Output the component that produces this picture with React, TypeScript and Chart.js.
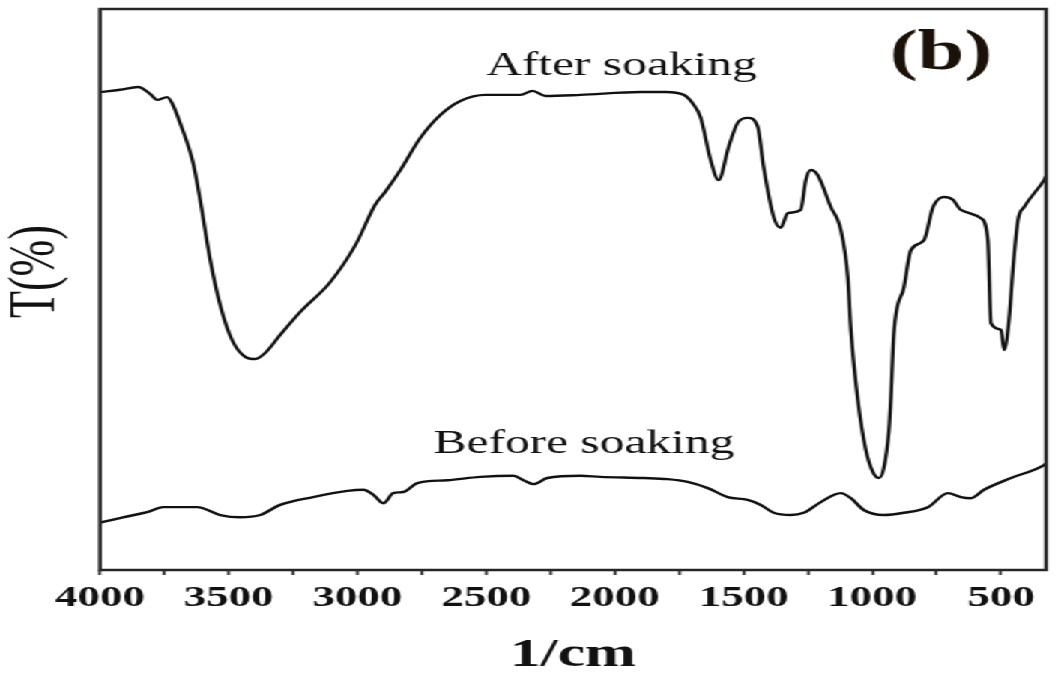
import React, { useEffect, useRef } from 'react';
import { Chart, registerables } from 'chart.js';

Chart.register(...registerables);

// ---- data (wavenumber in 1/cm, transmittance in arbitrary %) ----
const afterWavenumber = [
  4000, 3922, 3852, 3806, 3778, 3739, 3720, 3689, 3638, 3611, 3572, 3533, 3487, 3436, 3397, 3358,
  3300, 3222, 3106, 3008, 2931, 2892, 2833, 2756, 2678, 2600, 2503, 2367, 2320, 2269, 2133, 1900,
  1803, 1733, 1698, 1667, 1628, 1597, 1558, 1523, 1484, 1445, 1422, 1383, 1356, 1328, 1278, 1258,
  1239, 1212, 1161, 1122, 1095, 1083, 1056, 1025, 998, 974, 955, 935, 928, 916, 877, 850, 799, 764,
  722, 687, 656, 578, 551, 539, 500, 488, 469, 453, 434, 410, 333, 325,
];
const afterTransmittance = [
  85.2, 85.6, 86.1, 84.9, 83.8, 84.3, 83.2, 79.7, 72.5, 66.0, 55.3, 47.2, 41.0, 38.0, 37.6, 38.7,
  41.9, 46.0, 51.3, 57.9, 65.1, 67.4, 71.3, 77.0, 81.1, 83.6, 84.7, 84.7, 85.4, 84.5, 84.7, 85.2,
  85.2, 84.7, 83.2, 80.7, 73.1, 69.5, 75.4, 79.7, 80.6, 79.0, 71.8, 62.9, 61.0, 63.6, 64.2, 69.5,
  71.3, 70.4, 64.7, 60.6, 52.2, 42.8, 30.3, 21.4, 17.5, 16.4, 18.2, 25.0, 30.3, 42.2, 50.4, 57.0, 58.8, 64.7,
  66.5, 66.0, 64.2, 62.7, 58.8, 44.0, 42.8, 39.2, 44.6, 54.0, 62.4, 64.7, 69.5, 70.2,
];

const beforeWavenumber = [
  4000, 3911, 3817, 3755, 3623, 3533, 3456, 3378, 3300, 3172, 3039, 2977, 2938, 2899, 2861, 2822,
  2767, 2651, 2522, 2394, 2355, 2316, 2262, 2133, 2056, 1888, 1795, 1717, 1639, 1562, 1484, 1433,
  1383, 1317, 1266, 1200, 1122, 1083, 1033, 955, 877, 784, 706, 656, 617, 566, 461, 333, 325,
];
const beforeTransmittance = [
  8.4, 9.4, 10.3, 11.2, 11.2, 9.8, 9.4, 9.8, 11.6, 13.0, 14.1, 14.3, 13.4, 11.9, 13.7, 13.9,
  15.5, 16.0, 16.6, 16.8, 16.0, 15.3, 16.4, 16.8, 16.6, 16.4, 16.2, 15.7, 14.6, 13.0, 12.5, 11.6,
  10.2, 9.8, 10.2, 12.1, 13.7, 12.8, 10.7, 9.8, 10.2, 11.2, 13.7, 13.0, 12.8, 14.3, 16.4, 18.7, 19.0,
];

const xTickValues = [4000, 3750, 3500, 3250, 3000, 2750, 2500, 2250, 2000, 1750, 1500, 1250, 1000, 750, 500];
const xLabelEvery = 500;

const seriesLabels = ['After soaking', 'Before soaking'];
const seriesLabelWavenumber = [1974, 2120];
const seriesLabelLevel = [88.2, 20.9];
const panelLabel = '(b)';
const panelLabelWavenumber = [733];
const panelLabelLevel = [89.3];
const xAxisTitle = '1/cm';
const yAxisTitle = 'T(%)';

// ---- presentation ----
const CANVAS_W = 708;
const CANVAS_H = 673;
const STRETCH = 1061 / CANVAS_W;
const SERIF = '"Liberation Serif", "Times New Roman", serif';
const INK = '#111111';

const toPoints = (xs: number[], ys: number[]) => xs.map((x, i) => ({ x, y: ys[i] }));

const annotationPlugin = {
  id: 'frameAndNotes',
  afterDraw(chart: any) {
    const { ctx, chartArea } = chart;
    const { left, top, right, bottom } = chartArea;
    const xs = chart.scales.x;
    const ys = chart.scales.y;
    ctx.save();
    // frame
    ctx.strokeStyle = '#262626';
    ctx.lineWidth = 2.5;
    ctx.strokeRect(left, top, right - left, bottom - top);

    // series labels
    ctx.fillStyle = INK;
    ctx.textAlign = 'center';
    ctx.textBaseline = 'alphabetic';
    ctx.font = `33px ${SERIF}`;
    seriesLabels.forEach((t, i) => {
      ctx.fillText(t, xs.getPixelForValue(seriesLabelWavenumber[i]), ys.getPixelForValue(seriesLabelLevel[i]));
    });

    // panel label
    ctx.font = `bold 56px ${SERIF}`;
    ctx.fillStyle = '#1a1208';
    ctx.fillText(panelLabel, xs.getPixelForValue(panelLabelWavenumber[0]), ys.getPixelForValue(panelLabelLevel[0]));

    // y axis title
    ctx.fillStyle = INK;
    ctx.font = `44px ${SERIF}`;
    ctx.textBaseline = 'middle';
    ctx.translate(24.7, (top + bottom) / 2 - 18);
    ctx.rotate(-Math.PI / 2);
    ctx.fillText(yAxisTitle, 0, 0);
    ctx.restore();
  },
};

export default function App() {
  const canvasRef = useRef<HTMLCanvasElement | null>(null);

  useEffect(() => {
    if (!canvasRef.current) return;
    const chart = new Chart(canvasRef.current, {
      type: 'line',
      data: {
        datasets: [
          {
            label: seriesLabels[0],
            data: toPoints(afterWavenumber, afterTransmittance),
            borderColor: INK,
            borderWidth: 2.4,
            pointRadius: 0,
            cubicInterpolationMode: 'monotone',
            fill: false,
          },
          {
            label: seriesLabels[1],
            data: toPoints(beforeWavenumber, beforeTransmittance),
            borderColor: INK,
            borderWidth: 2.4,
            pointRadius: 0,
            cubicInterpolationMode: 'monotone',
            fill: false,
          },
        ],
      },
      options: {
        responsive: false,
        animation: false,
        events: [],
        layout: { padding: { left: 100 / STRETCH, right: 10, top: 9, bottom: 0 } },
        plugins: { legend: { display: false }, tooltip: { enabled: false }, title: { display: false } },
        scales: {
          x: {
            type: 'linear',
            reverse: true,
            min: 325,
            max: 4000,
            afterBuildTicks: (scale: any) => {
              scale.ticks = xTickValues.map((v) => ({ value: v }));
            },
            afterFit: (scale: any) => {
              scale.height = 103;
            },
            border: { display: false },
            grid: {
              display: true,
              drawOnChartArea: false,
              drawTicks: true,
              tickLength: 5,
              tickWidth: 1.8,
              tickColor: '#222222',
            },
            ticks: {
              autoSkip: false,
              maxRotation: 0,
              minRotation: 0,
              padding: 5,
              color: INK,
              font: { family: SERIF, size: 30, weight: 'bold', lineHeight: 1.2 },
              callback: (v: any) => (Number(v) % xLabelEvery === 0 ? String(v) : ''),
            },
            title: {
              display: true,
              text: xAxisTitle,
              color: INK,
              padding: { top: 0, bottom: 0 },
              font: { family: SERIF, size: 41, weight: 'bold', lineHeight: 0.85 },
            },
          },
          y: {
            type: 'linear',
            display: false,
            min: 0,
            max: 100,
          },
        },
      },
      plugins: [annotationPlugin],
    } as any);
    return () => chart.destroy();
  }, []);

  return (
    <div
      style={{
        position: 'absolute',
        left: 0,
        top: 0,
        width: CANVAS_W,
        height: CANVAS_H,
        transform: `scaleX(${STRETCH})`,
        transformOrigin: '0 0',
        background: '#ffffff',
      }}
    >
      <canvas ref={canvasRef} width={CANVAS_W} height={CANVAS_H} style={{ display: 'block' }} />
    </div>
  );
}
